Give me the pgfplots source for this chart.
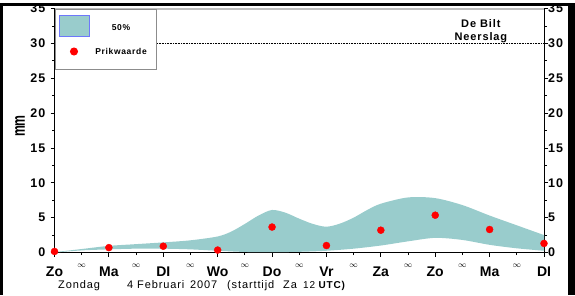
\documentclass[border=0pt]{standalone}
\usepackage{fontspec}
\setmainfont{Liberation Sans}
\newfontfamily\spc{Liberation Sans}[LetterSpace=8]
\usepackage{graphicx}
\usepackage{pgfplots}
\pgfplotsset{compat=1.18}
\usepgfplotslibrary{fillbetween}
\definecolor{bandcol}{RGB}{153,204,204}
\definecolor{legblue}{RGB}{110,120,250}
\definecolor{topgray}{RGB}{190,190,190}
\begin{document}
\begin{tikzpicture}
\path (0,0) rectangle (575pt,295pt);
\begin{axis}[
  at={(54.5pt,42.5pt)}, anchor=south west,
  scale only axis, width=489.5pt, height=244pt,
  xmin=0, xmax=9, ymin=0, ymax=35,
  clip=false,
  axis line style={black, line width=1pt},
  tick align=outside,
  xtick={0,...,9},
  xticklabels={Zo,Ma,DI,Wo,Do,Vr,Za,Zo,Ma,DI},
  xtick pos=left,
  ytick={0,5,...,35},
  minor y tick num=1,
  ytick pos=both,
  yticklabel pos=left,
  major tick length=4pt,
  minor tick length=2.5pt,
  every tick/.style={black, line width=0.8pt},
  /pgf/number format/assume math mode=true,
  yticklabel style={font=\spc\bfseries\fontsize{12.5}{13}\selectfont, inner sep=0pt, anchor=east, xshift=-5pt},
  xticklabel style={font=\bfseries\fontsize{14}{14}\selectfont, inner sep=0pt, anchor=base, yshift=-19.5pt},
  extra x ticks={0.5,1.5,...,8.5},
  extra x tick labels={$\infty$,$\infty$,$\infty$,$\infty$,$\infty$,$\infty$,$\infty$,$\infty$,$\infty$},
  extra x tick style={major tick length=2.5pt, xticklabel style={font=\fontsize{8}{8}\selectfont, yshift=7.5pt}},
  ylabel={\scalebox{0.68}[1]{\bfseries\fontsize{18}{18}\selectfont mm}},
  ylabel style={at={(axis description cs:-0.0705,0.518)}, anchor=center},
  legend style={at={(0,1)}, anchor=north west, draw=black!45, line width=1pt, fill=white,
     inner xsep=3.5pt, inner ysep=6pt, row sep=10.5pt,
     font=\spc\bfseries\fontsize{8.5}{9}\selectfont,
     nodes={text width=63pt, align=center, inner sep=0pt}},
  legend cell align=left,
]
\addplot[name path=up, draw=none, smooth, forget plot] coordinates {
(0,0.05) (0.5,0.5) (1,0.95) (1.5,1.2) (2,1.45) (2.5,1.75) (3,2.3) (3.25,3.0) (3.5,4.1) (3.75,5.3) (4,6.1) (4.25,5.7) (4.5,4.85) (4.75,4.1) (5,3.7) (5.25,4.15) (5.5,5.0) (5.75,6.1) (6,7.0) (6.5,7.9) (7,7.8) (7.5,6.8) (8,5.3) (8.5,3.9) (9,2.5)};
\addplot[name path=lo, draw=none, smooth, forget plot] coordinates {
(0,0) (0.5,0.3) (1,0.45) (1.5,0.55) (2,0.55) (2.5,0.45) (3,0.25) (3.5,0.08) (4,0.05) (4.5,0.1) (5,0.25) (5.5,0.55) (6,1.0) (6.5,1.6) (7,2.1) (7.5,1.8) (8,1.1) (8.5,0.6) (9,0.25)};
\addplot[fill=bandcol, draw=none,
  legend image code/.code={\draw[fill=bandcol, draw=legblue, line width=1pt] (0pt,-8pt) rectangle (30pt,13pt);}]
  fill between[of=up and lo];
\addlegendentry{50\%}
\draw[densely dotted, line width=0.6pt] (axis cs:0,30) -- (axis cs:9,30);
\addplot[only marks, mark=*, mark size=3.5pt, red,
  legend image code/.code={\fill[red] (15pt,1pt) circle (3.5pt); \path (0pt,-10.5pt) (30pt,4pt);}]
  coordinates {(0,0.15) (1,0.7) (2,0.9) (3,0.35) (4,3.65) (5,1.0) (6,3.2) (7,5.35) (8,3.3) (9,1.3)};
\addlegendentry{Prikwaarde}
\draw[topgray, line width=2pt] (rel axis cs:0,1) -- (rel axis cs:1,1);
\node[font=\spc\bfseries\fontsize{11}{11}\selectfont, anchor=base] at (axis description cs:0.871,0.924) {De Bilt};
\node[font=\spc\bfseries\fontsize{11}{11}\selectfont, anchor=base] at (axis description cs:0.871,0.869) {Neerslag};
\end{axis}
\begin{axis}[
  at={(54.5pt,42.5pt)}, anchor=south west,
  scale only axis, width=489.5pt, height=244pt,
  xmin=0, xmax=9, ymin=0, ymax=35,
  hide x axis, axis y line*=right, y axis line style={draw=none},
  ytick={0,5,...,35}, major tick length=0pt, every tick/.style={draw=none},
  /pgf/number format/assume math mode=true,
  yticklabel style={font=\spc\bfseries\fontsize{12.5}{13}\selectfont, inner sep=0pt, anchor=west, xshift=4pt},
]
\addplot[draw=none] coordinates {(0,0)};
\end{axis}
\begin{scope}[font=\spc\fontsize{11}{11}\selectfont]
\node[anchor=base west, inner sep=0pt] at (58pt,7pt) {Zondag};
\node[anchor=base west, inner sep=0pt] at (127pt,7pt) {4 Februari};
\node[anchor=base west, inner sep=0pt] at (190pt,7pt) {2007};
\node[anchor=base west, inner sep=0pt] at (227pt,7pt) {(starttijd};
\node[anchor=base west, inner sep=0pt] at (283pt,7pt) {Za};
\node[anchor=base west, inner sep=0pt] at (303pt,7pt) {\fontsize{10}{10}\selectfont 12 \bfseries UTC)};
\end{scope}
\fill[black] (0,0) rectangle (3pt,292pt);
\fill[black] (568pt,0) rectangle (575pt,292pt);
\fill[black] (0,289pt) rectangle (575pt,292pt);
\end{tikzpicture}
\end{document}
